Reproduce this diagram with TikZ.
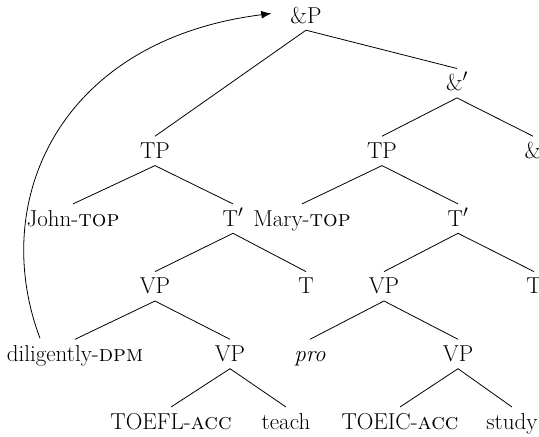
\documentclass[tikz,border=0pt]{standalone}
\usetikzlibrary{arrows.meta,calc}
\begin{document}
\begin{tikzpicture}[x=1pt,y=-1pt,
  lab/.style={anchor=base,inner xsep=1pt,inner ysep=6pt,text height=16pt,text depth=1pt,font=\fontsize{23}{28}\selectfont},
  br/.style={line width=0.8pt},
  mv/.style={line width=0.8pt,-{Latex[length=10pt,width=8pt]}}]
\useasboundingbox (0,0) rectangle (539,437);
% levels (baselines)
\def\la{23}\def\lb{90.7}\def\lc{158.4}\def\ld{226.1}\def\le{293.8}\def\lf{361.5}\def\lg{429.2}
\node[lab] (andP) at (306,\la) {\&P};
\node[lab] (andbar) at (457,\lb) {\&$'$};
\node[lab] (and) at (533,\lc) {\&};
\node[lab] (tpL) at (155,\lc) {TP};
\node[lab] (tpR) at (382,\lc) {TP};
\node[lab] (john) at (73,\ld) {John-\textsc{top}};
\node[lab] (tbL) at (233,\ld) {T$'$};
\node[lab] (mary) at (302,\ld) {Mary-\textsc{top}};
\node[lab] (tbR) at (458,\ld) {T$'$};
\node[lab] (vpL) at (155,\le) {VP};
\node[lab] (tL) at (306,\le) {T};
\node[lab] (vpR) at (384,\le) {VP};
\node[lab] (tR) at (534,\le) {T};
\node[lab] (dil) at (75,\lf) {diligently-\textsc{dpm}};
\node[lab] (vpLL) at (230,\lf) {VP};
\node[lab] (pro) at (310,\lf) {\itshape pro};
\node[lab] (vpRR) at (458,\lf) {VP};
\node[lab] (toefl) at (171,\lg) {TOEFL-\textsc{acc}};
\node[lab] (teach) at (286,\lg) {teach};
\node[lab] (toeic) at (400,\lg) {TOEIC-\textsc{acc}};
\node[lab] (study) at (512,\lg) {study};
% branches
\foreach \p/\c in {andP/tpL,andP/andbar,andbar/tpR,andbar/and,tpL/john,tpL/tbL,tpR/mary,tpR/tbR,
  tbL/vpL,tbL/tL,tbR/vpR,tbR/tR,vpL/dil,vpL/vpLL,vpR/pro,vpR/vpRR,vpLL/toefl,vpLL/teach,vpRR/toeic,vpRR/study}
  \draw[br] (\p.south) -- (\c.north);
% movement arrow
\coordinate (src) at ($(dil.north)+(-35,-1)$);
\coordinate (tgt) at ($(andP.west)+(-18,-2)$);
\draw[mv] (src) .. controls (-12,200) and (60,40) .. (tgt);
\end{tikzpicture}
\end{document}
